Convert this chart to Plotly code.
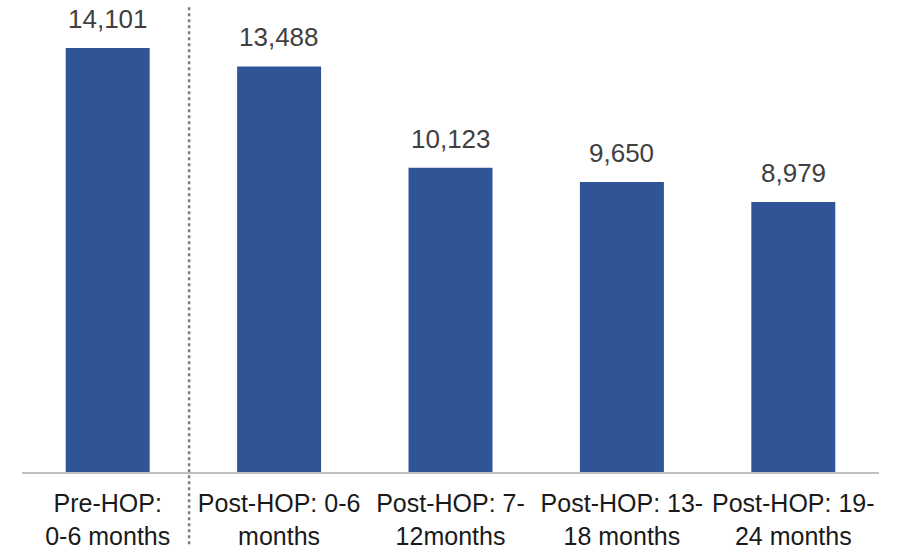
import plotly.graph_objects as go

# Monthly counts before and after HOP
categories = [
    "Pre-HOP:<br>0-6 months",
    "Post-HOP: 0-6<br>months",
    "Post-HOP: 7-<br>12months",
    "Post-HOP: 13-<br>18 months",
    "Post-HOP: 19-<br>24 months",
]
values = [14101, 13488, 10123, 9650, 8979]

BAR_COLOR = "#2F5597"
LABEL_FONT = "Liberation Sans, Arial, sans-serif"
TICK_FONT = "Liberation Sans, Arial, sans-serif"

fig = go.Figure(
    go.Bar(
        x=categories,
        y=values,
        marker=dict(color=BAR_COLOR, line=dict(width=0)),
        hoverinfo="skip",
    )
)

# value labels above each bar
for c, v in zip(categories, values):
    fig.add_annotation(
        x=c, y=v, text=f"{v:,}", showarrow=False,
        yanchor="bottom", yshift=12,
        font=dict(family=LABEL_FONT, size=26, color="#404040"),
    )

# dotted divider between the pre and post periods
fig.add_shape(
    type="line", xref="paper", yref="paper",
    x0=0.195, x1=0.195, y0=-0.155, y1=1.0,
    line=dict(color="#808080", width=2.5, dash="dot"),
)

fig.update_layout(
    width=902, height=556,
    margin=dict(l=22, r=23, t=6, b=81),
    paper_bgcolor="white", plot_bgcolor="white",
    bargap=0.51,
    showlegend=False,
    xaxis=dict(
        showline=True, linecolor="#BFBFBF", linewidth=2,
        showgrid=False, ticks="", zeroline=False,
        ticklabelstandoff=8,
        tickfont=dict(family=TICK_FONT, size=25, color="#1a1a1a"),
    ),
    yaxis=dict(
        range=[0, 15500], visible=False, showgrid=False, zeroline=False,
    ),
)

fig.write_html("out.html")
